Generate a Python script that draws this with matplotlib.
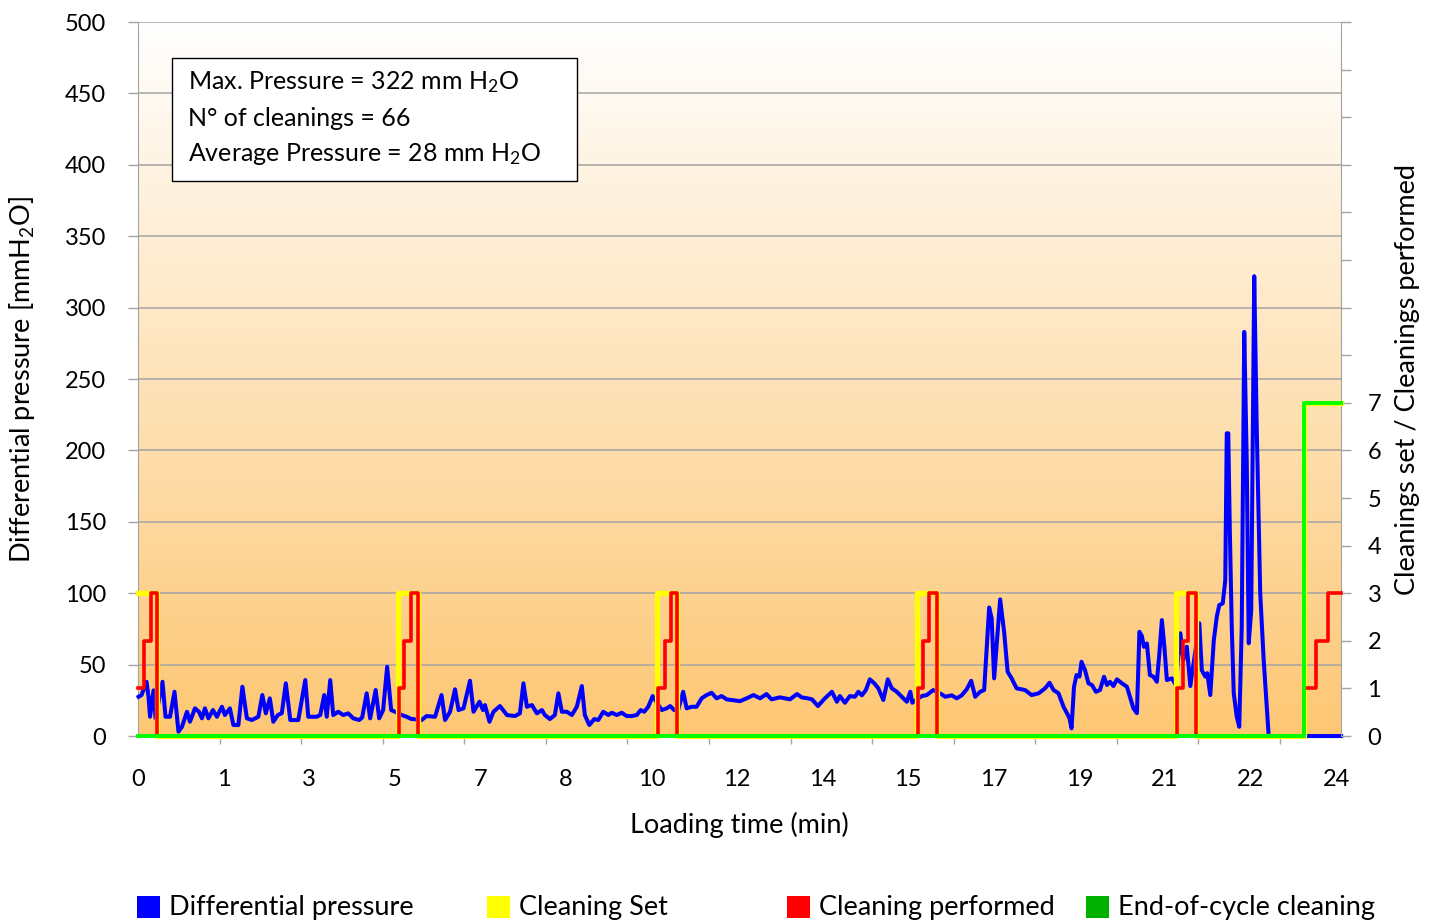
import numpy as np
import matplotlib
matplotlib.use('Agg')
import matplotlib.pyplot as plt
from matplotlib.patches import Rectangle
from matplotlib.ticker import FixedLocator, FixedFormatter

plt.rcParams['font.family'] = ['Lato', 'DejaVu Sans']
plt.rcParams['mathtext.fontset'] = 'custom'
plt.rcParams['mathtext.rm'] = 'Lato'
plt.rcParams['mathtext.it'] = 'Lato:italic'
plt.rcParams['mathtext.bf'] = 'Lato:bold'

# Differential pressure (mm H2O) against loading time (min)
time_dp = [0.01, 0.07, 0.17, 0.21, 0.24, 0.31, 0.35, 0.49, 0.55, 0.64, 0.73, 0.81, 0.88, 0.98,
           1.04, 1.14, 1.22, 1.28, 1.34, 1.41, 1.50, 1.58, 1.68, 1.74, 1.84, 1.91, 2.01, 2.09,
           2.18, 2.28, 2.41, 2.49, 2.56, 2.64, 2.71, 2.80, 2.88, 2.96, 3.05, 3.21, 3.35, 3.41,
           3.58, 3.65, 3.73, 3.78, 3.85, 3.91, 4.01, 4.11, 4.21, 4.31, 4.43, 4.49, 4.58, 4.65,
           4.76, 4.83, 4.91, 4.99, 5.07, 5.15, 5.28, 5.38, 5.47, 5.68, 5.78, 5.95, 6.08, 6.15,
           6.25, 6.35, 6.42, 6.52, 6.65, 6.72, 6.84, 6.91, 6.95, 7.04, 7.12, 7.25, 7.39, 7.55,
           7.65, 7.72, 7.79, 7.89, 7.99, 8.09, 8.15, 8.25, 8.35, 8.42, 8.49, 8.59, 8.69, 8.79,
           8.89, 8.95, 9.04, 9.14, 9.22, 9.32, 9.42, 9.49, 9.59, 9.69, 9.79, 9.89, 9.99, 10.07,
           10.14, 10.22, 10.31, 10.49, 10.59, 10.66, 10.74, 10.82, 10.92, 10.99, 11.09, 11.19,
           11.29, 11.39, 11.49, 11.59, 11.69, 11.79, 11.89, 12.06, 12.19, 12.33, 12.46, 12.59,
           12.69, 12.86, 13.06, 13.20, 13.30, 13.40, 13.50, 13.62, 13.76, 13.90, 14.00, 14.06,
           14.16, 14.26, 14.36, 14.43, 14.50, 14.58, 14.66, 14.75, 14.83, 14.93, 15.02, 15.10,
           15.20, 15.30, 15.40, 15.47, 15.51, 15.70, 15.80, 15.93, 16.09, 16.17, 16.30, 16.40,
           16.50, 16.60, 16.69, 16.77, 16.87, 16.95, 17.05, 17.10, 17.15, 17.27, 17.35, 17.42,
           17.50, 17.60, 17.77, 17.90, 18.04, 18.17, 18.26, 18.34, 18.44, 18.54, 18.61, 18.66,
           18.70, 18.75, 18.80, 18.86, 18.90, 18.97, 19.04, 19.11, 19.19, 19.27, 19.35, 19.41,
           19.47, 19.54, 19.61, 19.71, 19.81, 19.87, 19.94, 20.01, 20.06, 20.11, 20.15, 20.21,
           20.27, 20.34, 20.41, 20.46, 20.51, 20.56, 20.61, 20.71, 20.79, 20.88, 20.94, 21.01,
           21.08, 21.26, 21.31, 21.38, 21.42, 21.48, 21.55, 21.61, 21.66, 21.73, 21.78, 21.81,
           21.84, 21.87, 21.91, 21.95, 22.01, 22.06, 22.11, 22.16, 22.21, 22.25, 22.30, 22.36,
           22.41, 22.48, 22.55, 22.65, 24.10]
pressure = [27.5, 28.7, 38, 27.5, 13.5, 32, 12.6, 38, 13.5, 13.5, 31, 3, 6.5, 17,
            10, 19.4, 17, 12.4, 19.4, 12.4, 18.2, 13.5, 20.5, 14.7, 19.4, 7.7, 7.7, 34.5,
            12.4, 11.2, 13.5, 28.7, 15.9, 26.4, 10, 14.7, 16, 36.9, 11.2, 11.2, 39.2, 13.5,
            13.5, 14.7, 28.7, 13.5, 39.2, 14.7, 17, 14.7, 15.9, 12.4, 11.2, 13, 29.9, 12.4,
            32.2, 12.4, 18.2, 48.5, 18.2, 17, 14.7, 13.5, 12, 11.2, 14, 13.5, 28.7, 11.2,
            17, 32.7, 18.2, 19.4, 38.7, 17, 24, 18.2, 21.7, 10, 17, 21, 14.7, 14,
            15.9, 36.9, 20.5, 21.7, 15.9, 18.2, 14.7, 11.9, 14.7, 29.9, 17, 17, 14.7, 20.5,
            35, 14.7, 7.7, 11.9, 11.2, 17, 14.7, 16.3, 14.7, 16.3, 14, 14, 14.7, 18.2,
            17, 20.5, 28, 18.2, 19.4, 21, 18.2, 18.2, 31, 19.4, 20.5, 20.5,
            26.4, 28.7, 30.3, 26.4, 28, 25.7, 25.2, 24.4, 26.4, 28.7, 26.4, 29.4,
            25.7, 27.1, 25.7, 29.4, 27, 26.5, 25.7, 21, 26.4, 31, 24, 28,
            23.3, 28, 27.5, 31, 28.5, 32.2, 39.7, 36.9, 33.4, 25.2, 39.7, 33.4,
            31, 27.5, 24, 31, 23.3, 28, 28.7, 32.2, 29.4, 27.5, 28.5, 26.4,
            28.5, 32.7, 38.7, 27.5, 31, 32.2, 90, 82.4, 40.4, 95.7, 73, 45,
            40.4, 33.4, 32.2, 28.7, 29.9, 33.4, 37.3, 32.2, 29.9, 20.5, 15.9, 12.4,
            5.4, 34.5, 42.7, 41.6, 52, 46.2, 36.9, 35.7, 31, 32.2, 41.5, 35.7,
            38, 35, 39.7, 36.9, 34.5, 27.5, 19.4, 16, 73, 70, 62.5, 64.8,
            42.7, 41.6, 38, 57.9, 81.2, 62.5, 39.2, 40.4, 35.7, 72, 53.2, 62.5,
            35, 79, 46, 41.6, 44, 28.7, 67, 83.5, 91.7, 92.9, 109, 212,
            212, 146.5, 76.5, 29.9, 13.5, 6.5, 76.5, 283, 193, 65, 88, 322,
            216.6, 100, 53, 0, 0]

# Step series on the right axis (value holds until the next time)
time_set = [0, 0.38, 5.21, 5.61, 10.39, 10.80, 15.61, 16.01, 20.79, 21.20, 23.36, 24.10]
cleaning_set = [3, 0, 3, 0, 3, 0, 3, 0, 3, 0, 7, 7]

time_done = [0, 0.12, 0.26, 0.38, 5.23, 5.33, 5.47, 5.61, 10.42, 10.56, 10.68, 10.80,
             15.63, 15.73, 15.85, 16.00, 20.81, 20.93, 21.03, 21.19, 23.36, 23.60, 23.84, 24.10]
cleaning_done = [1, 2, 3, 0, 1, 2, 3, 0, 1, 2, 3, 0, 1, 2, 3, 0, 1, 2, 3, 0, 1, 2, 3, 3]

time_end = [0, 23.36, 24.10]
end_cleaning = [0, 7, 7]

x_labels = ['0', '1', '3', '5', '7', '8', '10', '12', '14', '15', '17', '19', '21', '22', '24']

grid_col = '#a3a3a3'
fs = 17       # tick labels
fs_lab = 19.5 # axis titles and legend

fig = plt.figure(figsize=(14.38, 9.22), dpi=100)
ax = fig.add_axes([0.0960, 0.2017, 0.8366, 0.7744])

# Vertical gradient background (white at top, light orange at bottom)
g = np.linspace(0, 1, 256)[:, None, None]
top_c = np.array([1.0, 1.0, 1.0])
bot_c = np.array([253, 199, 116]) / 255
ax.imshow(top_c + (bot_c - top_c) * g, extent=[0, 24.1, 0, 500], aspect='auto', zorder=0)

ax.plot(time_dp, pressure, color='#0000ff', lw=2.9, zorder=3, clip_on=False,
        solid_joinstyle='round')

ax.set_xlim(0, 24.1)
ax.set_ylim(0, 500)
ax.set_yticks(range(0, 501, 50))
ax.yaxis.grid(True, color=grid_col, lw=1.1)
ax.set_axisbelow(True)
ax.tick_params(axis='y', direction='out', length=7, width=1, color=grid_col,
               labelsize=fs, pad=16)

# x axis: labels on their own spacing, tick marks on another
ax.xaxis.set_major_locator(FixedLocator([24 * k / 14 for k in range(15)]))
ax.xaxis.set_major_formatter(FixedFormatter(x_labels))
ax.xaxis.set_minor_locator(FixedLocator(list(np.arange(15) * 1.634)))
ax.tick_params(axis='x', which='major', length=0, labelsize=fs, pad=24)
ax.tick_params(axis='x', which='minor', direction='out', length=6, width=1, color=grid_col)

for s in ['top', 'right']:
    ax.spines[s].set_visible(False)
ax.spines['left'].set_color(grid_col)
ax.spines['bottom'].set_color(grid_col)

ax.set_xlabel('Loading time (min)', fontsize=fs_lab, va='center')
ax.xaxis.set_label_coords(0.5, -0.1246)
ax.set_ylabel('Differential pressure [mmH$_2$O]', fontsize=fs_lab, va='center')
ax.yaxis.set_label_coords(-0.0964, 0.5)

# Right axis with cleaning counters
ax2 = ax.twinx()
ax2.set_ylim(0, 15)
ax2.plot(time_set, cleaning_set, drawstyle='steps-post', color='#ffff00', lw=3.8,
         zorder=3, clip_on=False)
ax2.plot(time_done, cleaning_done, drawstyle='steps-post', color='#ff0000', lw=2.6,
         zorder=4, clip_on=False)
ax2.plot(time_end, end_cleaning, drawstyle='steps-post', color='#00ff00', lw=2.8,
         zorder=5, clip_on=False)
ax2.yaxis.set_major_locator(FixedLocator(list(range(16))))
ax2.yaxis.set_major_formatter(FixedFormatter([str(i) for i in range(8)] + [''] * 8))
ax2.tick_params(axis='y', direction='out', length=7, width=1, color=grid_col,
                labelsize=fs, pad=12)
for s in ['top', 'left', 'bottom']:
    ax2.spines[s].set_visible(False)
ax2.spines['right'].set_color(grid_col)
ax2.set_ylabel('Cleanings set / Cleanings performed', fontsize=fs_lab, va='center',
               rotation=90)
ax2.yaxis.set_label_coords(1.0549, 0.5)

# Summary box
ax2.add_patch(Rectangle((0.0283, 0.7773), 0.3367, 0.1723, transform=ax2.transAxes,
                        facecolor='white', edgecolor='black', lw=1.0, zorder=6))
box_lines = ['Max. Pressure = 322 mm H$_2$O', 'N° of cleanings = 66',
             'Average Pressure = 28 mm H$_2$O']
for txt, yy in zip(box_lines, [0.9160, 0.8655, 0.8151]):
    ax2.text(0.0416, yy, txt, transform=ax2.transAxes, fontsize=18, va='center',
             ha='left', zorder=7)

# Legend along the bottom
legend_items = [('Differential pressure', '#0000ff', 137),
                ('Cleaning Set', '#ffff00', 487),
                ('Cleaning performed', '#ff0000', 787),
                ('End-of-cycle cleaning', '#00b000', 1086)]
W, H = 1438, 922
for name, col, px in legend_items:
    fig.patches.append(Rectangle((px / W, (H - 918) / H), 23 / W, 22 / H,
                                 transform=fig.transFigure, facecolor=col, edgecolor='none'))
    fig.text((px + 32) / W, (H - 907) / H, name, fontsize=fs_lab, va='center', ha='left')

fig.savefig('out.png', dpi=100)
